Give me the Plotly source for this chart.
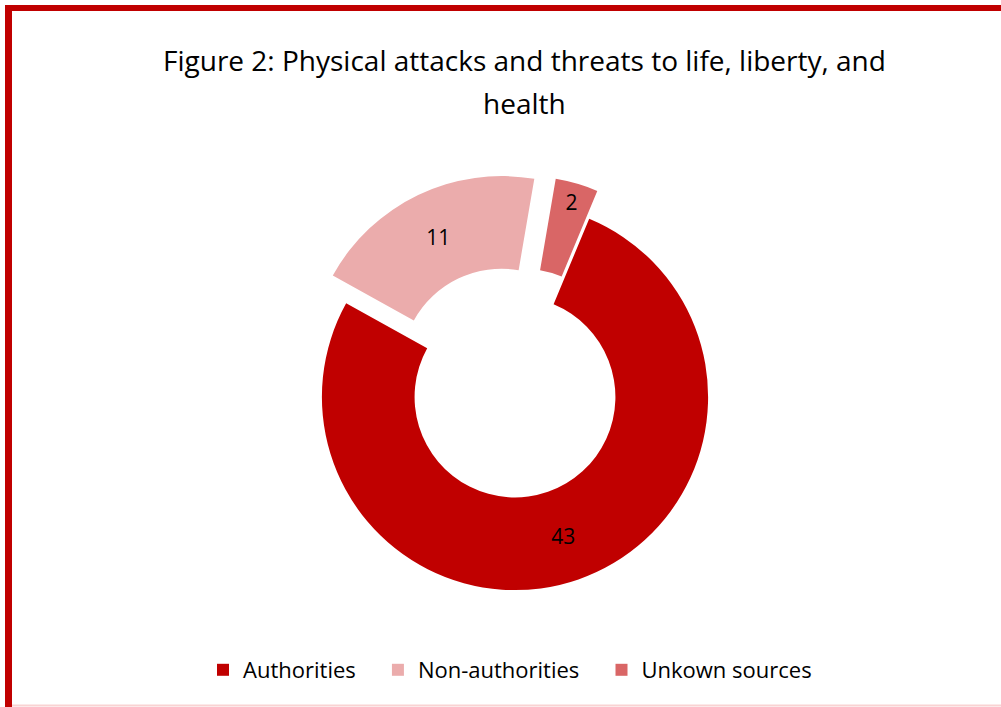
import plotly.graph_objects as go

labels = ["Authorities", "Non-authorities", "Unkown sources"]
values = [43, 11, 2]
colors = ["#C00000", "#EBACAC", "#D96666"]
pulls = [0, 0.16, 0.15]

title_line1 = "Figure 2: Physical attacks and threats to life, liberty, and"
title_line2 = "health"

W, H = 1001, 707
FONT = "'Open Sans', Lato, sans-serif"
PAD = "\u00a0" * 3  # extra legend spacing

def px_x(x):
    return x / W

def px_y(y):
    return 1 - y / H

cx, cy, half = 515, 397, 224

fig = go.Figure(go.Pie(
    labels=[l + PAD for l in labels],
    values=values,
    hole=0.52,
    sort=False,
    direction="clockwise",
    rotation=22.6,
    pull=pulls,
    marker=dict(colors=colors, line=dict(width=0)),
    textinfo="value",
    textposition="inside",
    insidetextorientation="horizontal",
    textfont=dict(family=FONT, size=21, color="#000000"),
    domain=dict(x=[px_x(cx - half), px_x(cx + half)],
                y=[px_y(cy + half), px_y(cy - half)]),
    hoverinfo="label+value",
))

fig.update_layout(
    width=W, height=H,
    margin=dict(l=0, r=0, t=0, b=0),
    paper_bgcolor="white",
    plot_bgcolor="white",
    font=dict(family=FONT, color="#000000"),
    showlegend=True,
    legend=dict(orientation="h", x=0.518, xanchor="center",
                y=px_y(670), yanchor="middle",
                font=dict(family=FONT, size=22, color="#000000"),
                itemsizing="constant"),
    annotations=[
        dict(text=title_line1, x=px_x(524), y=px_y(60), xref="paper", yref="paper",
             showarrow=False, xanchor="center", yanchor="middle",
             font=dict(family=FONT, size=28, color="#000000")),
        dict(text=title_line2, x=px_x(524), y=px_y(103), xref="paper", yref="paper",
             showarrow=False, xanchor="center", yanchor="middle",
             font=dict(family=FONT, size=28, color="#000000")),
    ],
    shapes=[
        dict(type="rect", xref="paper", yref="paper", x0=px_x(5), x1=px_x(12),
             y0=px_y(H), y1=px_y(5), fillcolor="#C00000", line=dict(width=0), layer="above"),
        dict(type="rect", xref="paper", yref="paper", x0=px_x(5), x1=px_x(W),
             y0=px_y(11), y1=px_y(5), fillcolor="#C00000", line=dict(width=0), layer="above"),
        dict(type="rect", xref="paper", yref="paper", x0=px_x(12), x1=px_x(W),
             y0=px_y(706.5), y1=px_y(704.5), fillcolor="#F9D3D3", line=dict(width=0), layer="above"),
    ],
)

fig.write_html("out.html", config={"displayModeBar": False},
               post_script="document.body.style.margin='0';document.body.style.overflow='hidden';")
